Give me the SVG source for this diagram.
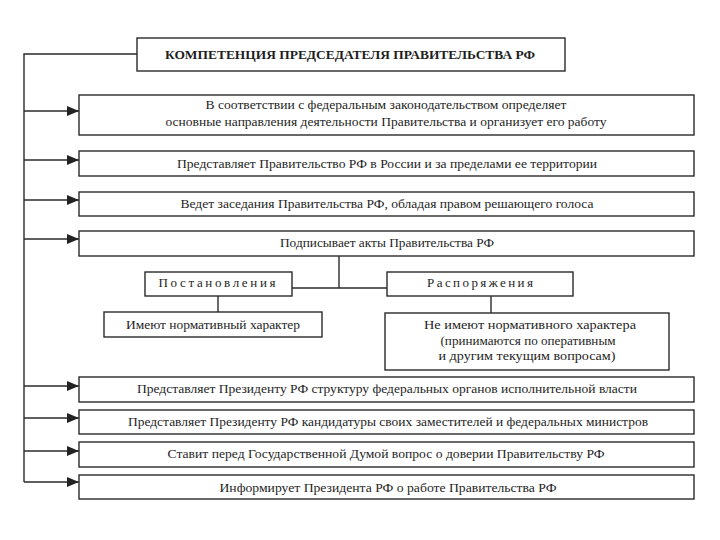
<svg xmlns="http://www.w3.org/2000/svg" width="720" height="540" viewBox="0 0 720 540">
<defs>
<marker id="arr" viewBox="0 0 12 10" refX="12" refY="5" markerWidth="12" markerHeight="10" markerUnits="userSpaceOnUse" orient="auto">
<path d="M0,0 L12,5 L0,10 z" fill="#222"/>
</marker>
<style>
.box{fill:#fff;stroke:#2a2a2a;stroke-width:1.4}
.t{font-family:"Liberation Serif","DejaVu Serif",serif;font-size:13px;fill:#1e1e1e;text-anchor:middle}
.tb{font-family:"Liberation Serif","DejaVu Serif",serif;font-size:13px;font-weight:bold;fill:#1e1e1e;text-anchor:middle}
.c{fill:none;stroke:#2a2a2a;stroke-width:1.4}
</style>
</defs>
<rect width="720" height="540" fill="#fff"/>
<g id="connectors">
<path class="c" d="M137,54 H24 V482"/>
<path class="c" d="M24,111 H79" marker-end="url(#arr)"/>
<path class="c" d="M24,160 H79" marker-end="url(#arr)"/>
<path class="c" d="M24,200 H79" marker-end="url(#arr)"/>
<path class="c" d="M24,239 H79" marker-end="url(#arr)"/>
<path class="c" d="M24,386 H79" marker-end="url(#arr)"/>
<path class="c" d="M24,418 H79" marker-end="url(#arr)"/>
<path class="c" d="M24,451 H79" marker-end="url(#arr)"/>
<path class="c" d="M24,482 H79" marker-end="url(#arr)"/>
<path class="c" d="M339,256 V288"/>
<path class="c" d="M292,288 H387"/>
<path class="c" d="M218,296 V312"/>
<path class="c" d="M491,296 V313"/>
</g>
<g id="title">
<rect class="box" x="137" y="38" width="428" height="33"/>
<text class="tb" x="350" y="59" textLength="370" lengthAdjust="spacingAndGlyphs">КОМПЕТЕНЦИЯ ПРЕДСЕДАТЕЛЯ ПРАВИТЕЛЬСТВА РФ</text>
</g>
<g id="n1">
<rect class="box" x="79" y="95" width="615" height="40"/>
<text class="t" x="386" y="109" textLength="361" lengthAdjust="spacingAndGlyphs">В соответствии с федеральным законодательством определяет</text>
<text class="t" x="386" y="126" textLength="441" lengthAdjust="spacingAndGlyphs">основные направления деятельности Правительства и организует его работу</text>
</g>
<g id="n2">
<rect class="box" x="79" y="151" width="615" height="25"/>
<text class="t" x="387" y="168" textLength="420" lengthAdjust="spacingAndGlyphs">Представляет Правительство РФ в России и за пределами ее территории</text>
</g>
<g id="n3">
<rect class="box" x="79" y="192" width="615" height="24"/>
<text class="t" x="387" y="208" textLength="413" lengthAdjust="spacingAndGlyphs">Ведет заседания Правительства РФ, обладая правом решающего голоса</text>
</g>
<g id="n4">
<rect class="box" x="79" y="231" width="615" height="25"/>
<text class="t" x="387" y="247" textLength="214" lengthAdjust="spacingAndGlyphs">Подписывает акты Правительства РФ</text>
</g>
<g id="post">
<rect class="box" x="145" y="272" width="147" height="24"/>
<text class="t" x="217" y="287" font-size="12" textLength="117" lengthAdjust="spacing">Постановления</text>
</g>
<g id="rasp">
<rect class="box" x="387" y="272" width="186" height="24"/>
<text class="t" x="480" y="287" font-size="12" textLength="106" lengthAdjust="spacing">Распоряжения</text>
</g>
<g id="norm">
<rect class="box" x="104" y="312" width="218" height="25"/>
<text class="t" x="213" y="329" textLength="174" lengthAdjust="spacingAndGlyphs">Имеют нормативный характер</text>
</g>
<g id="nenorm">
<rect class="box" x="385" y="313" width="284" height="57"/>
<text class="t" x="530" y="329" textLength="212" lengthAdjust="spacingAndGlyphs">Не имеют нормативного характера</text>
<text class="t" x="528" y="345" textLength="175" lengthAdjust="spacingAndGlyphs">(принимаются по оперативным</text>
<text class="t" x="527" y="360" textLength="177" lengthAdjust="spacingAndGlyphs">и другим текущим вопросам)</text>
</g>
<g id="n5">
<rect class="box" x="79" y="377" width="615" height="25"/>
<text class="t" x="387" y="393" textLength="500" lengthAdjust="spacingAndGlyphs">Представляет Президенту РФ структуру федеральных органов исполнительной власти</text>
</g>
<g id="n6">
<rect class="box" x="79" y="410" width="615" height="24"/>
<text class="t" x="388" y="426" textLength="520" lengthAdjust="spacingAndGlyphs">Представляет Президенту РФ кандидатуры своих заместителей и федеральных министров</text>
</g>
<g id="n7">
<rect class="box" x="79" y="442" width="615" height="25"/>
<text class="t" x="386" y="458" textLength="437" lengthAdjust="spacingAndGlyphs">Ставит перед Государственной Думой вопрос о доверии Правительству РФ</text>
</g>
<g id="n8">
<rect class="box" x="79" y="475" width="615" height="24"/>
<text class="t" x="388" y="492" textLength="337" lengthAdjust="spacingAndGlyphs">Информирует Президента РФ о работе Правительства РФ</text>
</g>
</svg>
